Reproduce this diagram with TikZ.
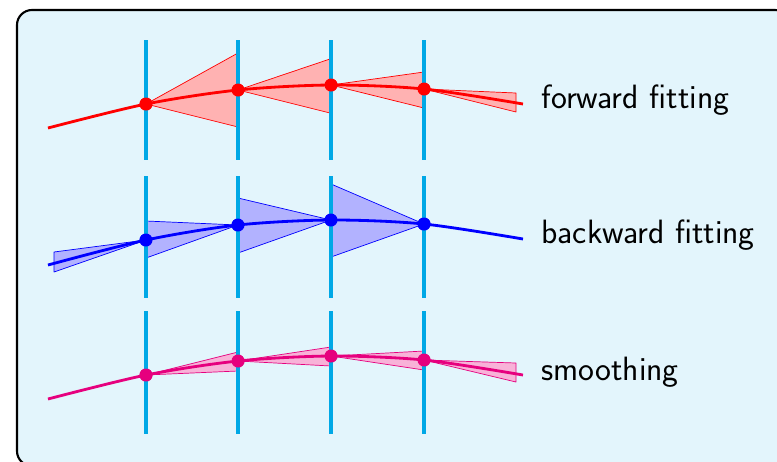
\documentclass[tikz,border=0pt]{standalone}
\usepackage{fontspec}
\usepackage{xcolor}
\usetikzlibrary{positioning}
\definecolor{boxbg}{HTML}{E3F5FC}
\definecolor{gridcyan}{HTML}{00A8E6}
\definecolor{smoothpink}{HTML}{E6007E}
\tikzstyle{timeline} = [gridcyan, line width=2.1pt]
\tikzstyle{track}    = [line width=1.6pt]
\tikzstyle{spread}   = [line width=0.4pt, line join=round]
\tikzstyle{dot}      = [circle, fill, inner sep=0pt, minimum size=2.6mm]
\tikzstyle{rowtext}  = [anchor=base west, inner sep=0pt, font=\sffamily\fontsize{19.2}{23}\selectfont]

\begin{document}
\begin{tikzpicture}[x=0.02cm, y=-0.02cm]

\useasboundingbox (0,0) rectangle (777,461);
\clip (0,0) rectangle (777,461);

% panel
\draw[fill=boxbg, line width=1.2pt, rounded corners=0.3cm] (17,10) rectangle (790,466);

% forward fitting
\node[dot, red] (F1) at (146,104) {};
\node[dot, red] (F2) at (238,90) {};
\node[dot, red] (F3) at (331,85) {};
\node[dot, red] (F4) at (424,89) {};
\coordinate (FS) at (48,128);
\coordinate (FE) at (523,104);

\draw[spread, red, fill=red!30] (F1.center) -- (238,53) -- (238,127) -- cycle;
\draw[spread, red, fill=red!30] (F2.center) -- (330,59) -- (330,113) -- cycle;
\draw[spread, red, fill=red!30] (F3.center) -- (424,72) -- (424,108) -- cycle;
\draw[spread, red, fill=red!30] (F4.center) -- (516,93) -- (516,112) -- cycle;

% backward fitting
\node[dot, blue] (B1) at (146,240) {};
\node[dot, blue] (B2) at (238,225) {};
\node[dot, blue] (B3) at (331,220) {};
\node[dot, blue] (B4) at (424,224) {};
\coordinate (BS) at (48,265);
\coordinate (BE) at (523,239);

\draw[spread, blue, fill=blue!30] (B1.center) -- (54,252) -- (54,272) -- cycle;
\draw[spread, blue, fill=blue!30] (B2.center) -- (146,221) -- (146,258) -- cycle;
\draw[spread, blue, fill=blue!30] (B3.center) -- (238,198) -- (238,253) -- cycle;
\draw[spread, blue, fill=blue!30] (B4.center) -- (331,184) -- (331,257) -- cycle;

% smoothing
\node[dot, smoothpink] (S1) at (146,375) {};
\node[dot, smoothpink] (S2) at (238,361) {};
\node[dot, smoothpink] (S3) at (331,356) {};
\node[dot, smoothpink] (S4) at (424,360) {};
\coordinate (SS) at (48,399);
\coordinate (SE) at (523,375);

\draw[spread, smoothpink, fill=smoothpink!30] (S1.center) -- (238,352) -- (238,371) -- cycle;
\draw[spread, smoothpink, fill=smoothpink!30] (S2.center) -- (331,347) -- (331,366) -- cycle;
\draw[spread, smoothpink, fill=smoothpink!30] (S3.center) -- (424,351) -- (424,370) -- cycle;
\draw[spread, smoothpink, fill=smoothpink!30] (S4.center) -- (516,363) -- (516,382) -- cycle;

% time steps
\foreach \x/\n in {146/1, 238/2, 331/3, 424/4} {
  \coordinate (TA\n) at (\x,40);  \coordinate (TB\n) at (\x,160);
  \coordinate (TC\n) at (\x,176); \coordinate (TD\n) at (\x,298);
  \coordinate (TE\n) at (\x,311); \coordinate (TF\n) at (\x,434);
  \draw[timeline] (TA\n) -- (TB\n);
  \draw[timeline] (TC\n) -- (TD\n);
  \draw[timeline] (TE\n) -- (TF\n);
}

% estimates
\draw[track, red] plot[smooth] coordinates {(FS) (F1.center) (F2.center) (F3.center) (F4.center) (FE)};
\draw[track, blue] plot[smooth] coordinates {(BS) (B1.center) (B2.center) (B3.center) (B4.center) (BE)};
\draw[track, smoothpink] plot[smooth] coordinates {(SS) (S1.center) (S2.center) (S3.center) (S4.center) (SE)};
\foreach \n in {1,...,4} {
  \node[dot, red] at (F\n) {};
  \node[dot, blue] at (B\n) {};
  \node[dot, smoothpink] at (S\n) {};
}

% labels
\node[rowtext] (forward) at (541,108) {forward fitting};
\node[rowtext] (backward) at (541,243) {backward fitting};
\node[rowtext] (smooth) at (541,380) {smoothing};

\end{tikzpicture}
\end{document}
